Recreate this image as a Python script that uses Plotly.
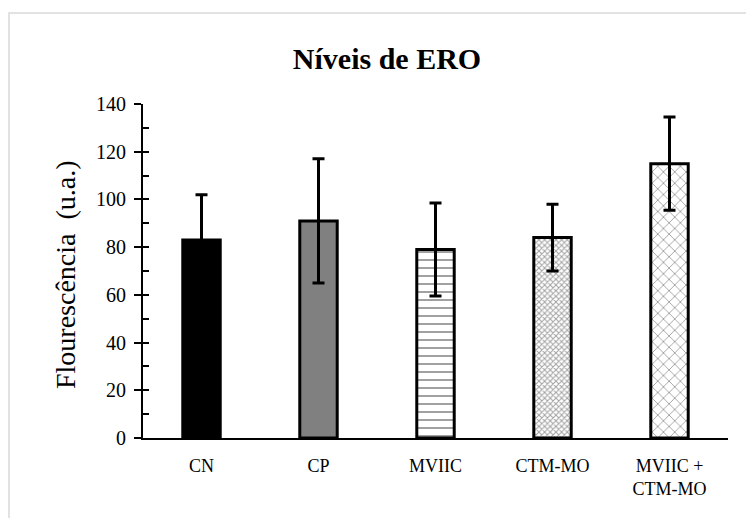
import plotly.graph_objects as go

categories = ["CN", "CP", "MVIIC", "CTM-MO", "MVIIC +<br>CTM-MO"]
values = [83, 91, 79, 84, 115]
errors = [19, 26, 19.5, 14, 19.5]
y_ticks = [0, 20, 40, 60, 80, 100, 120, 140]
y_title = "Flourescência\u00a0 (u.a.)"

fill_colors = ["black", "#808080", "white", "white", "white"]
pattern_shapes = ["", "", "-", "x", "x"]
pattern_sizes = [8, 8, 8, 4, 8]
pattern_solid = [0.3, 0.3, 0.25, 0.45, 0.22]

FONT = "Liberation Serif"

fig = go.Figure()
fig.add_trace(go.Bar(
    x=categories, y=values, width=0.32,
    marker=dict(
        color=fill_colors,
        line=dict(color="black", width=3),
        pattern=dict(shape=pattern_shapes, fgcolor="black", bgcolor="white",
                     size=pattern_sizes, solidity=pattern_solid, fillmode="overlay"),
    ),
    error_y=dict(type="data", array=errors, visible=True, color="black",
                 thickness=3, width=6),
    showlegend=False,
))
# invisible helper trace for the inside-tick overlay axis
fig.add_trace(go.Scatter(x=[categories[0]], y=[values[0]], yaxis="y2",
                         mode="markers", marker=dict(opacity=0), showlegend=False,
                         hoverinfo="skip"))

fig.update_layout(
    width=746, height=518,
    margin=dict(l=143, r=18, t=104, b=80),
    paper_bgcolor="white", plot_bgcolor="white",
    font=dict(family=FONT, color="black", size=19),
    title=dict(text="<b>Níveis de ERO</b>", x=387 / 746, xanchor="center",
               y=1 - 58 / 518, yanchor="middle", font=dict(size=30, family=FONT)),
    xaxis=dict(showline=True, linecolor="black", linewidth=2, ticks="",
               showgrid=False, tickfont=dict(size=18, family=FONT), ticklabelstandoff=10),
    yaxis=dict(range=[0, 140], tickvals=y_ticks, showline=True, linecolor="black",
               linewidth=2, ticks="outside", ticklen=7, tickwidth=2, tickcolor="black",
               showgrid=False, zeroline=False, tickfont=dict(size=20, family=FONT),
               ticklabelstandoff=4),
    yaxis2=dict(range=[0, 140], overlaying="y", side="left", dtick=10, tick0=0,
                ticks="inside", ticklen=6, tickwidth=2, tickcolor="black",
                showticklabels=False, showgrid=False, zeroline=False, showline=False),
)
fig.add_annotation(text=y_title, textangle=-90, xref="paper", yref="paper",
                   x=(65 - 143) / 585, y=(438 - 275) / 334, xanchor="center",
                   yanchor="middle", showarrow=False,
                   font=dict(size=28, family=FONT, color="black"))
# light gray chart-area border
fig.add_shape(type="rect", xref="paper", yref="paper",
              x0=(9 - 143) / 585, x1=(760 - 143) / 585,
              y0=(438 - 530) / 334, y1=(438 - 13) / 334,
              line=dict(color="#d9d9d9", width=1.5), layer="below")
fig.write_html("out.html")
